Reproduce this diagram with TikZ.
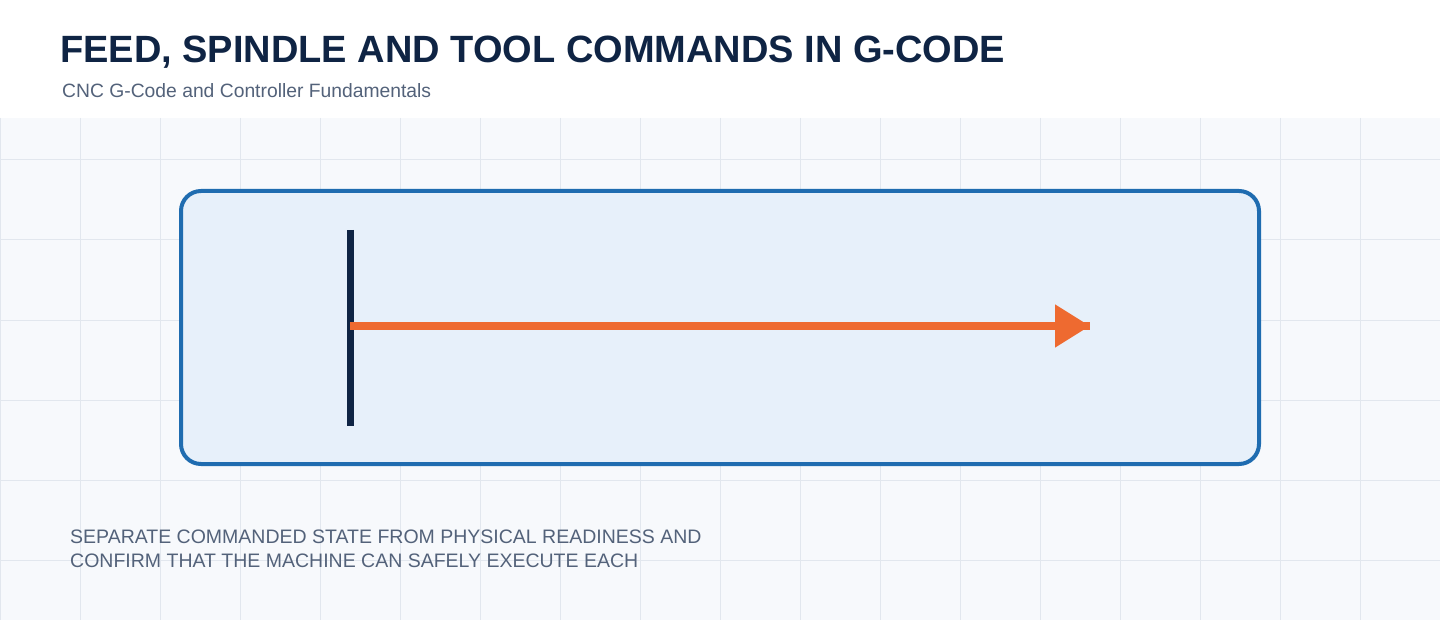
\documentclass[tikz,border=0pt]{standalone}
\usepackage{fontspec}
\setmainfont{Liberation Sans}
\usepackage{tikz}
\usetikzlibrary{arrows.meta,positioning,calc}
\usepackage{xcolor}
\definecolor{navy}{HTML}{0F2444}
\definecolor{slate}{HTML}{53627A}
\definecolor{panelblue}{HTML}{1F6CB0}
\definecolor{panelfill}{HTML}{E7F0FA}
\definecolor{gridbg}{HTML}{F7F9FC}
\definecolor{gridline}{HTML}{E2E7EE}
\definecolor{feedorange}{HTML}{EE6A30}

\begin{document}
\begin{tikzpicture}[
    x=1pt, y=-1pt,
    heading/.style={anchor=base west, inner sep=0pt, text=navy, font=\fontsize{38}{44}\selectfont\bfseries},
    subheading/.style={anchor=base west, inner sep=0pt, text=slate, font=\fontsize{19.3}{22}\selectfont},
    note/.style={anchor=base west, inner sep=0pt, text=slate, align=left, font=\fontsize{19.5}{24}\selectfont},
    panel/.style={draw=panelblue, fill=panelfill, line width=4pt, rounded corners=20pt},
    spindlebar/.style={draw=navy, line width=7pt},
    feedline/.style={draw=feedorange, line width=8pt}
]
\useasboundingbox (0,0) rectangle (1440,620);
% background and grid
\fill[white] (0,0) rectangle (1440,118);
\fill[gridbg] (0,118) rectangle (1440,620);
\foreach \gx in {0,80,...,1440}
    \draw[gridline, line width=1pt] (\gx,118) -- (\gx,620);
\foreach \gy in {160,240,...,560}
    \draw[gridline, line width=1pt] (0,\gy) -- (1440,\gy);

\node[heading] (title) at (60,63) {FEED, SPINDLE AND TOOL COMMANDS IN G-CODE};
\node[subheading] (subtitle) at (62,98) {CNC G-Code and Controller Fundamentals};

\node[panel, minimum width=1078pt, minimum height=273pt] (box) at (720,327.5) {};

\coordinate (bartop) at (350,230);
\coordinate (barbot) at (350,426);
\coordinate (barmid) at (350,326);
\coordinate (tipend) at (1090,326);
\draw[spindlebar] (bartop) -- (barbot);
\draw[feedline] (barmid) -- (tipend);
\draw[feedline, -{Triangle[length=35pt,width=41pt]}] (barmid) -- (tipend);

\node[note] (caption) at (70,567) {SEPARATE COMMANDED STATE FROM PHYSICAL READINESS AND\\CONFIRM THAT THE MACHINE CAN SAFELY EXECUTE EACH};
\end{tikzpicture}
\end{document}
